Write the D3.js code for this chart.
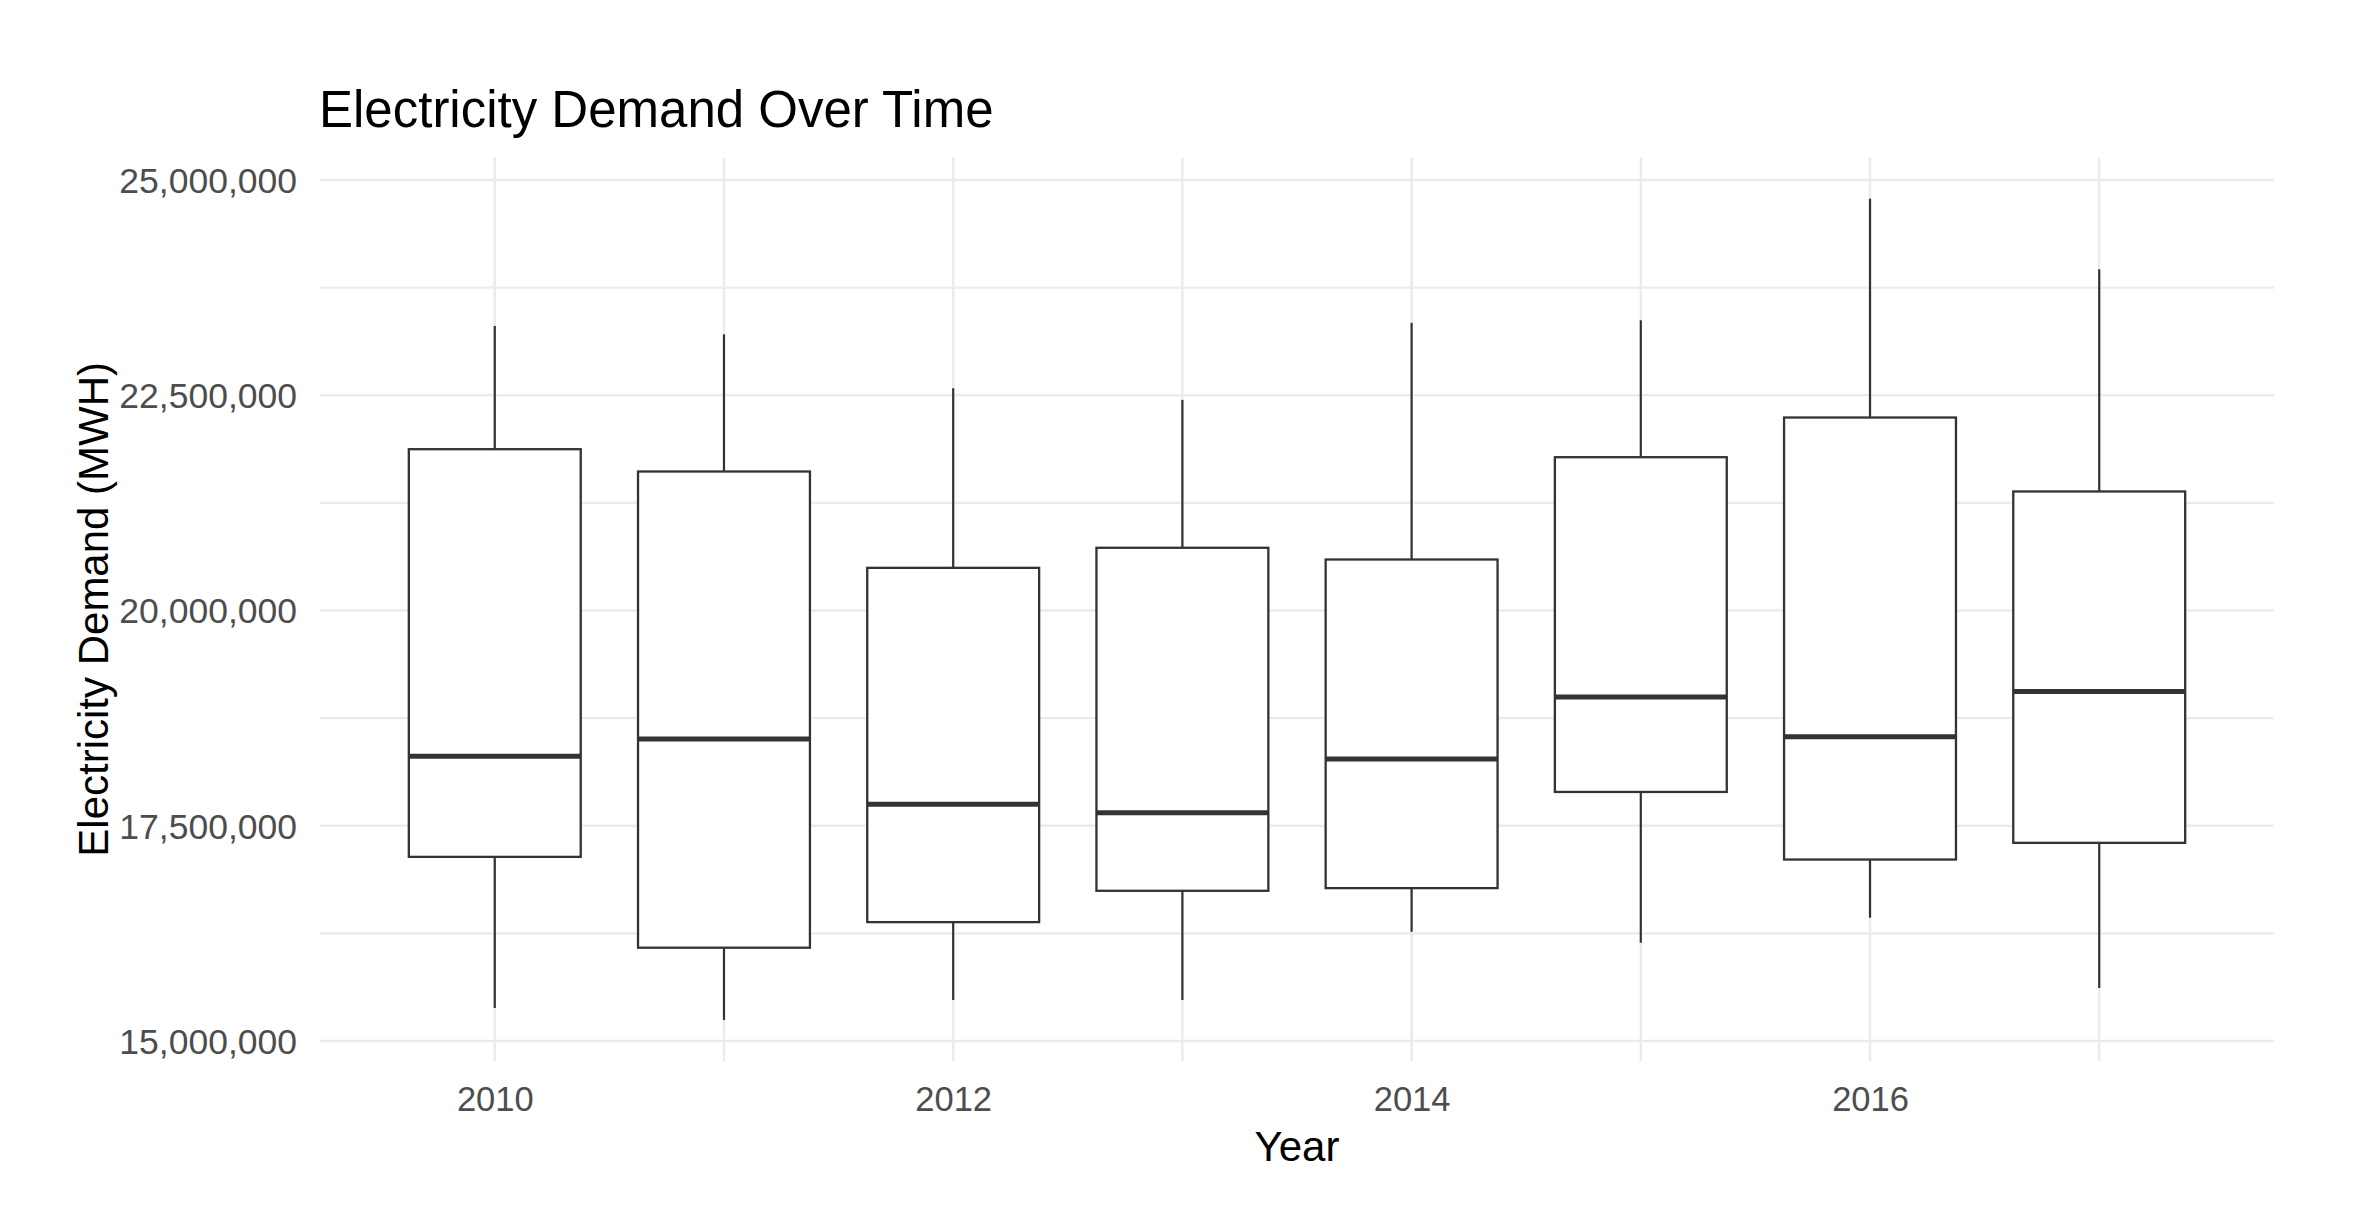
<!DOCTYPE html>
<html>
<head>
<meta charset="utf-8">
<script src="https://cdn.jsdelivr.net/npm/d3@7"></script>
<style>
  html, body { margin: 0; padding: 0; background: #ffffff; }
  svg { display: block; }
</style>
</head>
<body>
<script>
// ---- Data ----
const years   = [2010, 2011, 2012, 2013, 2014, 2015, 2016, 2017];
const lowers  = [15383000, 15244000, 15476000, 15476000, 16268000, 16141000, 16431000, 15615000];
const q1s     = [17138000, 16083000, 16380000, 16744000, 16775000, 17892000, 17107000, 17301000];
const medians = [18306000, 18507000, 17749000, 17649000, 18275000, 18995000, 18534000, 19060000];
const q3s     = [21873000, 21614000, 20495000, 20728000, 20592000, 21780000, 22241000, 21382000];
const uppers  = [23305000, 23208000, 22581000, 22446000, 23340000, 23371000, 24783000, 23963000];
const xTickLabels = [2010, 2012, 2014, 2016];
const yTickValues = [15000000, 17500000, 20000000, 22500000, 25000000];
const yMinorValues = [16250000, 18750000, 21250000, 23750000];
const xMinorValues = [2011, 2013, 2015, 2017];

const titleText = "Electricity Demand Over Time";
const xTitle = "Year";
const yTitle = "Electricity Demand (MWH)";

// ---- Layout ----
const W = 2360, H = 1215;
const panel = { left: 320, right: 2274, top: 157.6, bottom: 1061 };
const boxHalf = 0.375;
const font = "'Liberation Sans', Arial, sans-serif";

const svg = d3.select("body").append("svg").attr("width", W).attr("height", H);
svg.append("rect").attr("width", W).attr("height", H).attr("fill", "#ffffff");

// x scale with ggplot-like 5% expansion
const xLo = d3.min(years) - boxHalf, xHi = d3.max(years) + boxHalf;
const xPad = (xHi - xLo) * 0.05;
const x = d3.scaleLinear().domain([xLo - xPad, xHi + xPad]).range([panel.left, panel.right]);

const yLo = d3.min(lowers), yHi = d3.max(uppers);
const yPad = (yHi - yLo) * 0.05;
const y = d3.scaleLinear().domain([yLo - yPad, yHi + yPad]).range([panel.bottom, panel.top]);

const grid = svg.append("g");
const gridColor = "#EBEBEB";
// horizontal gridlines
grid.selectAll("line.hmin").data(yMinorValues).enter().append("line")
  .attr("x1", panel.left).attr("x2", panel.right)
  .attr("y1", d => y(d)).attr("y2", d => y(d))
  .attr("stroke", gridColor).attr("stroke-width", 2.3);
grid.selectAll("line.hmaj").data(yTickValues).enter().append("line")
  .attr("x1", panel.left).attr("x2", panel.right)
  .attr("y1", d => y(d)).attr("y2", d => y(d))
  .attr("stroke", gridColor).attr("stroke-width", 2.6);
// vertical gridlines
grid.selectAll("line.vmin").data(xMinorValues).enter().append("line")
  .attr("x1", d => x(d)).attr("x2", d => x(d))
  .attr("y1", panel.top).attr("y2", panel.bottom)
  .attr("stroke", gridColor).attr("stroke-width", 2.3);
grid.selectAll("line.vmaj").data(xTickLabels).enter().append("line")
  .attr("x1", d => x(d)).attr("x2", d => x(d))
  .attr("y1", panel.top).attr("y2", panel.bottom)
  .attr("stroke", gridColor).attr("stroke-width", 2.6);

// boxes
const data = years.map((yr, i) => ({
  year: yr, lo: lowers[i], q1: q1s[i], med: medians[i], q3: q3s[i], hi: uppers[i]
}));
const ink = "#333333";
const boxes = svg.append("g").selectAll("g").data(data).enter().append("g");
boxes.append("line")
  .attr("x1", d => x(d.year)).attr("x2", d => x(d.year))
  .attr("y1", d => y(d.hi)).attr("y2", d => y(d.q3))
  .attr("stroke", ink).attr("stroke-width", 2.2);
boxes.append("line")
  .attr("x1", d => x(d.year)).attr("x2", d => x(d.year))
  .attr("y1", d => y(d.q1)).attr("y2", d => y(d.lo))
  .attr("stroke", ink).attr("stroke-width", 2.2);
boxes.append("rect")
  .attr("x", d => x(d.year - boxHalf))
  .attr("width", d => x(d.year + boxHalf) - x(d.year - boxHalf))
  .attr("y", d => y(d.q3))
  .attr("height", d => y(d.q1) - y(d.q3))
  .attr("fill", "#ffffff").attr("stroke", ink).attr("stroke-width", 2.3);
boxes.append("line")
  .attr("x1", d => x(d.year - boxHalf)).attr("x2", d => x(d.year + boxHalf))
  .attr("y1", d => y(d.med)).attr("y2", d => y(d.med))
  .attr("stroke", ink).attr("stroke-width", 5);

// axes (no domain lines, no ticks — theme_minimal)
const xAxis = d3.axisBottom(x).tickValues(xTickLabels).tickFormat(d3.format("d")).tickSize(0).tickPadding(0);
const gx = svg.append("g").attr("transform", `translate(0,${panel.bottom})`).call(xAxis);
gx.select(".domain").remove();
gx.selectAll("text").attr("font-family", font).attr("font-size", 34.5).attr("fill", "#4D4D4D")
  .attr("dy", null).attr("y", 50);

const fmt = d3.format(",");
const yAxis = d3.axisLeft(y).tickValues(yTickValues).tickFormat(fmt).tickSize(0).tickPadding(0);
const gy = svg.append("g").attr("transform", `translate(${panel.left},0)`).call(yAxis);
gy.select(".domain").remove();
gy.selectAll("text").attr("font-family", font).attr("font-size", 35.5).attr("fill", "#4D4D4D")
  .attr("x", -23).attr("dy", "0.35em");

// titles
svg.append("text").attr("x", panel.left - 1).attr("y", 127)
  .attr("font-family", font).attr("font-size", 51).attr("fill", "#000000")
  .text(titleText);
svg.append("text").attr("x", (panel.left + panel.right) / 2).attr("y", 1161)
  .attr("text-anchor", "middle")
  .attr("font-family", font).attr("font-size", 42).attr("fill", "#000000")
  .text(xTitle);
svg.append("text")
  .attr("transform", `translate(108,${(panel.top + panel.bottom) / 2}) rotate(-90)`)
  .attr("text-anchor", "middle")
  .attr("font-family", font).attr("font-size", 42).attr("fill", "#000000")
  .text(yTitle);
</script>
</body>
</html>
